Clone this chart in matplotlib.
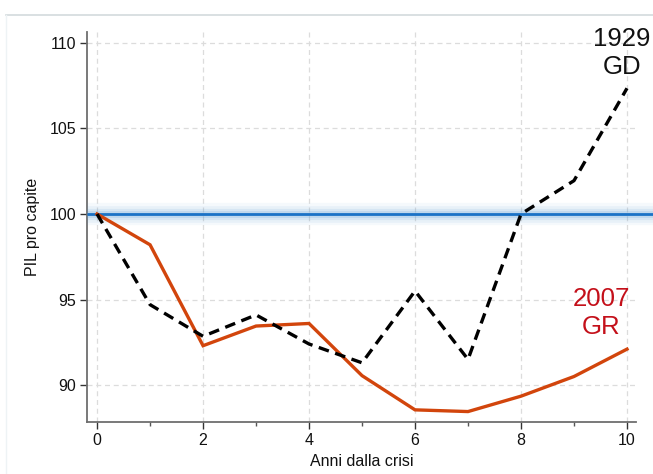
import matplotlib
matplotlib.use("Agg")
import matplotlib.pyplot as plt
from matplotlib.lines import Line2D
import matplotlib.transforms as mtransforms

plt.rcParams['font.family'] = ['Liberation Sans', 'DejaVu Sans']

years = [0, 1, 2, 3, 4, 5, 6, 7, 8, 9, 10]
gd_1929 = [100.0, 94.7, 92.85, 94.1, 92.4, 91.3, 95.5, 91.5, 100.0, 101.95, 107.35]
gr_2007 = [100.0, 98.2, 92.3, 93.45, 93.6, 90.55, 88.55, 88.45, 89.35, 90.5, 92.1]
baseline = 100
yticks = [90, 95, 100, 105, 110]
xticks = [0, 2, 4, 6, 8, 10]
label_gd = "1929\nGD"
label_gr = "2007\nGR"

W, H = 653, 474
fig = plt.figure(figsize=(W / 100, H / 100), dpi=100)

# page frame lines
fig.add_artist(Line2D([6 / W, 1.0], [1 - 15 / H, 1 - 15 / H], transform=fig.transFigure,
                      color='#d3dadd', lw=1.2))
fig.add_artist(Line2D([6 / W, 6 / W], [0, 1 - 15 / H], transform=fig.transFigure,
                      color='#eef3f5', lw=1.0))

ax = fig.add_axes([87 / W, 1 - 422 / H, (636 - 87) / W, (422 - 32) / H])
ax.set_xlim(-0.19, 10.17)
ax.set_ylim(87.84, 110.64)

ax.set_xticks(xticks)
ax.set_xticks([1, 3, 5, 7, 9], minor=True)
ax.set_yticks(yticks)
ax.grid(True, which='major', linestyle=(0, (4, 3)), color='#dcdcdc', lw=0.9)
ax.set_axisbelow(True)

for s in ['top', 'right']:
    ax.spines[s].set_visible(False)
for s in ['left', 'bottom']:
    ax.spines[s].set_color('#6e6e6e')
    ax.spines[s].set_linewidth(1.3)
ax.tick_params(axis='both', which='major', length=5, width=1, color='#333333',
               labelsize=11.5, labelcolor='#111111', pad=3)
ax.tick_params(axis='x', which='minor', length=3, width=1, color='#555555')

# baseline with glow, extended to figure right edge
trans = mtransforms.blended_transform_factory(ax.transAxes, ax.transData)
xr = (W - 87) / (636 - 87)
for lw, a in [(16, 0.06), (12, 0.08), (8, 0.12), (5, 0.18)]:
    ax.plot([0, xr], [baseline, baseline], transform=trans, color='#5b9bd5',
            lw=lw, alpha=a, clip_on=False, solid_capstyle='butt', zorder=3)
ax.plot([0, xr], [baseline, baseline], transform=trans, color='#1a72c6',
        lw=2.0, clip_on=False, solid_capstyle='butt', zorder=4)

ax.plot(years, gr_2007, color='#d2450c', lw=2.4, zorder=5, solid_joinstyle='miter')
ax.plot(years, gd_1929, color='black', lw=2.4, dashes=(3.2, 2.0), zorder=6)

ax.text(622 / W, 1 - 53 / H, label_gd, transform=fig.transFigure, ha='center',
        va='center', fontsize=18.5, color='#111111', linespacing=1.2)
ax.text(601 / W, 1 - 313 / H, label_gr, transform=fig.transFigure, ha='center',
        va='center', fontsize=18.5, color='#c4101a', linespacing=1.2)

ax.set_xlabel('Anni dalla crisi', fontsize=11.5, color='#111111', labelpad=4)
ax.set_ylabel('PIL pro capite', fontsize=11.5, color='#111111', labelpad=7)

fig.savefig('out.png', dpi=100)
